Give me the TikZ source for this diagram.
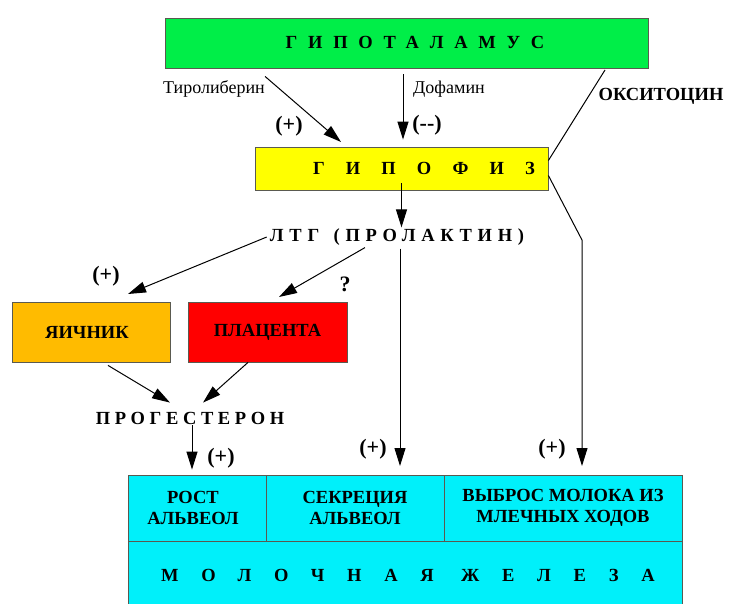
\documentclass[tikz,border=0pt]{standalone}
\usepackage{fontspec}
\setmainfont{Liberation Serif}
\usetikzlibrary{arrows.meta}

\definecolor{hgreen}{RGB}{0,238,72}
\definecolor{hyellow}{RGB}{255,255,0}
\definecolor{horange}{RGB}{255,187,0}
\definecolor{hred}{RGB}{255,0,0}
\definecolor{hcyan}{RGB}{0,240,250}
\definecolor{hborder}{RGB}{90,90,80}

\tikzset{
  blk/.style={draw=hborder, line width=0.8pt, inner sep=0pt, align=center,
    font=\bfseries\fontsize{18.5}{21}\selectfont},
  spaced/.style={inner sep=1pt, font=\bfseries\fontsize{18.5}{20}\selectfont\addfontfeatures{LetterSpace=#1}},
  hormone/.style={inner sep=1pt, font=\fontsize{18}{20}\selectfont},
  sgn/.style={inner sep=0pt, font=\bfseries\fontsize{22}{24}\selectfont},
  arr/.style={-{Triangle[length=18pt,width=11pt]}, line width=1pt},
  ln/.style={line width=1pt},
}

\begin{document}
\begin{tikzpicture}[x=1pt,y=1pt,yscale=-1]
  \useasboundingbox (0,0) rectangle (731,604);

  % boxes
  \node[blk, fill=hgreen, minimum width=483, minimum height=50] (hypoth) at (406.5,43) {};
  \node[spaced=58] (hypothtxt) at (415,42) {ГИПОТАЛАМУС};
  \node[blk, fill=hyellow, minimum width=293, minimum height=43] (hypo) at (401.5,168.5) {};
  \node[spaced=114] (hypotxt) at (424,168) {ГИПОФИЗ};
  \node[spaced=31] (ltg) at (397,237) {ЛТГ\hspace{4pt} (ПРОЛАКТИН)};
  \node[blk, fill=horange, minimum width=158, minimum height=60] (ovary) at (91,332) {\hspace{-8pt}ЯИЧНИК};
  \node[blk, fill=hred, minimum width=159, minimum height=60] (plac) at (267.5,332) {ПЛАЦЕНТА};
  \node[spaced=25] (prog) at (190,418) {ПРОГЕСТЕРОН};

  % mammary gland table
  \node[blk, fill=hcyan, minimum width=138, minimum height=66] (cellA) at (197,508) {\hspace{-8pt}РОСТ\\\hspace{-8pt}АЛЬВЕОЛ};
  \node[blk, fill=hcyan, minimum width=178, minimum height=66] (cellB) at (355,508) {СЕКРЕЦИЯ\\АЛЬВЕОЛ};
  \node[blk, fill=hcyan, minimum width=238, minimum height=66] (cellC) at (563,508) {ВЫБРОС МОЛОКА ИЗ\\МЛЕЧНЫХ ХОДОВ};
  \node[blk, fill=hcyan, minimum width=554, minimum height=66] (gland) at (405,574) {};
  \node[spaced=123] (glandtxt) at (408,575) {МОЛОЧНАЯ ЖЕЛЕЗА};

  % hormone labels and signs
  \node[hormone] (trl) at (214,89) {Тиролиберин};
  \node[hormone] (dof) at (449,89) {Дофамин};
  \node[inner sep=1pt, font=\bfseries\fontsize{18.5}{20}\selectfont] (oxy) at (661,96) {ОКСИТОЦИН};
  \node[sgn] (sA) at (289,126) {(+)};
  \node[sgn] (sB) at (427,125) {({-}{-})};
  \node[sgn] (sC) at (106,276) {(+)};
  \node[sgn] (sD) at (345,284) {?};
  \node[sgn] (sE) at (221,458) {(+)};
  \node[sgn] (sF) at (373,449) {(+)};
  \node[sgn] (sG) at (552,449) {(+)};

  % free ends of the connectors
  \coordinate (oxyTop) at (605,70);
  \coordinate (oxyBend) at (582,240);
  \coordinate (oxyEnd) at (582,466);
  \coordinate (prlEnd) at (400,466);
  \coordinate (ovEnd) at (128,294);
  \coordinate (plEnd) at (279,297);
  \coordinate (trlEnd) at (341,142);

  % connectors (yshift points down here)
  \draw[arr] ([xshift=-1pt,yshift=-3pt]trl.north east) -- (trlEnd);
  \draw[arr] ([xshift=-3.5pt,yshift=6pt]hypoth.south) -- ([xshift=1.5pt,yshift=-7pt]hypo.north);
  \draw[ln] (oxyTop) -- ([yshift=-8pt]hypo.east);
  \draw[arr] ([yshift=7pt]hypo.east) -- (oxyBend) -- (oxyEnd);
  \draw[arr] ([yshift=-7pt]hypo.south) -- (hypo.south |- ltg.north);
  \draw[arr] ([xshift=-2pt]ltg.west) -- (ovEnd);
  \draw[arr] ([xshift=-32pt,yshift=1pt]ltg.south) -- (plEnd);
  \draw[arr] ([xshift=3pt,yshift=2pt]ltg.south) -- (prlEnd);
  \draw[arr] ([xshift=17pt,yshift=3pt]ovary.south) -- ([xshift=-20pt,yshift=-8pt]prog.north);
  \draw[arr] ([xshift=-19.5pt]plac.south) -- ([xshift=13pt,yshift=-8pt]prog.north);
  \draw[arr] ([xshift=2pt]prog.south) -- ([xshift=-5pt,yshift=-5pt]cellA.north);
\end{tikzpicture}
\end{document}
